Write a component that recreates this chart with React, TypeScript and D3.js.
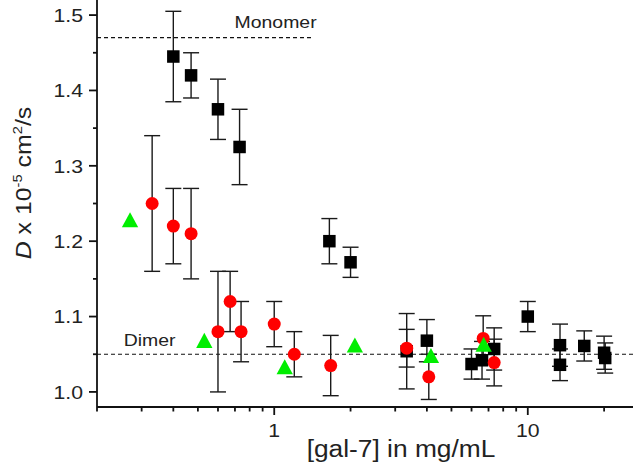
import React from 'react';
import * as d3 from 'd3';

// ---- data ----
const squaresX = [0.4, 0.47, 0.6, 0.73, 1.65, 2.0, 3.33, 4.0, 6.0, 6.6, 7.37, 10.0, 13.4, 13.4, 16.7, 20.0, 20.2];
const squaresY = [1.445, 1.42, 1.375, 1.325, 1.2, 1.172, 1.054, 1.068, 1.037, 1.042, 1.057, 1.1, 1.062, 1.036, 1.061, 1.052, 1.045];
const squaresErr = [0.06, 0.03, 0.04, 0.05, 0.03, 0.02, 0.05, 0.028, 0.02, 0.025, 0.028, 0.02, 0.028, 0.021, 0.02, 0.022, 0.02];

const circlesX = [0.33, 0.4, 0.47, 0.6, 0.67, 0.74, 1.0, 1.2, 1.67, 3.33, 4.07, 6.67, 7.37];
const circlesY = [1.25, 1.22, 1.21, 1.08, 1.12, 1.08, 1.09, 1.05, 1.035, 1.058, 1.02, 1.071, 1.039];
const circlesErr = [0.09, 0.05, 0.06, 0.08, 0.04, 0.04, 0.03, 0.03, 0.04, 0.025, 0.03, 0.03, 0.031];

const trianglesX = [0.27, 0.53, 1.1, 2.08, 4.15, 6.7];
const trianglesY = [1.227, 1.067, 1.032, 1.061, 1.047, 1.062];

const monomerD = 1.47;
const monomerEndX = 1.43;
const dimerD = 1.05;

const yMajorTicks = [1.0, 1.1, 1.2, 1.3, 1.4, 1.5];
const yMinorTicks = [1.05, 1.15, 1.25, 1.35, 1.45];
const xMajorTicks = [1, 10];
const xMinorTicks = [0.2, 0.3, 0.4, 0.5, 0.6, 0.7, 0.8, 0.9, 2, 3, 4, 5, 6, 7, 8, 9, 20];

const W = 633;
const H = 465;
const FONT = 'Arial, "Liberation Sans", sans-serif';
const SX = 1.13; // horizontal stretch of the text in the reference

export default function App() {
  const x = d3.scaleLog().domain([0.2, 26]).range([97, 633]);
  const y = d3.scaleLinear().domain([0.98, 1.52]).range([407, 0]);
  const x0 = x.range()[0];
  const x1 = x.range()[1];
  const yb = y.range()[0];

  const cap = 8;
  const errColor = '#1a1a1a';

  const errBars = (xs: number[], ys: number[], es: number[], key: string) =>
    xs.map((v, i) => {
      const cx = x(v);
      const t = y(ys[i] + es[i]);
      const b = y(ys[i] - es[i]);
      return (
        <g key={key + i} stroke={errColor} strokeWidth={1.4}>
          <line x1={cx} x2={cx} y1={t} y2={b} />
          <line x1={cx - cap} x2={cx + cap} y1={t} y2={t} />
          <line x1={cx - cap} x2={cx + cap} y1={b} y2={b} />
        </g>
      );
    });

  const sq = 12.5;
  const tri = d3.symbol().type(d3.symbolTriangle).size(115)();

  const txt = (s: React.ReactNode, px: number, py: number, size: number, anchor: string, extra: any = {}) => (
    <text
      transform={`translate(${px},${py}) scale(${SX},1)`}
      fontFamily={FONT}
      fontSize={size}
      textAnchor={anchor}
      fill="#222"
      {...extra}
    >
      {s}
    </text>
  );

  return (
    <svg width={W} height={H} style={{ position: 'absolute', left: 0, top: 0, background: '#fff' }}>
      <rect width={W} height={H} fill="#fff" />
      {/* reference lines */}
      <line x1={x0} x2={x(monomerEndX)} y1={y(monomerD)} y2={y(monomerD)} stroke="#111" strokeWidth={1.2} strokeDasharray="4,3" />
      <line x1={x0} x2={x1} y1={y(dimerD)} y2={y(dimerD)} stroke="#111" strokeWidth={1.2} strokeDasharray="4,3" />
      {txt('Monomer', x(monomerEndX) + 3, y(monomerD) - 10, 17.2, 'end')}
      {txt('Dimer', x(0.255), y(dimerD) - 8, 17.2, 'start')}

      {/* error bars */}
      {errBars(squaresX, squaresY, squaresErr, 's')}
      {errBars(circlesX, circlesY, circlesErr, 'c')}

      {/* markers */}
      {squaresX.map((v, i) => (
        <rect key={'sq' + i} x={x(v) - sq / 2} y={y(squaresY[i]) - sq / 2} width={sq} height={sq} fill="#000" />
      ))}
      {circlesX.map((v, i) => (
        <circle key={'ci' + i} cx={x(v)} cy={y(circlesY[i])} r={6.5} fill="#ff0000" />
      ))}
      {trianglesX.map((v, i) => (
        <path key={'tr' + i} d={tri || ''} transform={`translate(${x(v)},${y(trianglesY[i]) + 1.5}) scale(1,1.07)`} fill="#00ee00" />
      ))}

      {/* axes */}
      <g stroke="#111" strokeWidth={1.8}>
        <line x1={x0} x2={x0} y1={0} y2={yb} />
        <line x1={x0} x2={x1} y1={yb} y2={yb} />
        {yMajorTicks.map((t) => (
          <line key={'ym' + t} x1={x0 - 8} x2={x0} y1={y(t)} y2={y(t)} />
        ))}
        {yMinorTicks.map((t) => (
          <line key={'yn' + t} x1={x0 - 4} x2={x0} y1={y(t)} y2={y(t)} />
        ))}
        {xMajorTicks.map((t) => (
          <line key={'xm' + t} x1={x(t)} x2={x(t)} y1={yb} y2={yb + 8} />
        ))}
        {xMinorTicks.map((t) => (
          <line key={'xn' + t} x1={x(t)} x2={x(t)} y1={yb} y2={yb + 4.5} />
        ))}
      </g>
      {yMajorTicks.map((t) => txt(d3.format('.1f')(t), x0 - 14, y(t) + 6.7, 18.8, 'end', { key: 'yl' + t }))}
      {xMajorTicks.map((t) => txt(String(t), x(t), yb + 30, 18.8, 'middle', { key: 'xl' + t }))}

      {/* axis titles */}
      {txt('[gal-7] in mg/mL', 401, 457, 23.3, 'middle')}
      <text
        transform={`translate(31,183) rotate(-90) scale(${SX},1)`}
        fontFamily={FONT}
        fontSize={22}
        textAnchor="middle"
        fill="#222"
      >
        <tspan fontStyle="italic">D</tspan>
        <tspan> x 10</tspan>
        <tspan fontSize={13} dy={-9}>-5</tspan>
        <tspan dy={9}> cm</tspan>
        <tspan fontSize={13} dy={-9}>2</tspan>
        <tspan dy={9}>/s</tspan>
      </text>
    </svg>
  );
}
